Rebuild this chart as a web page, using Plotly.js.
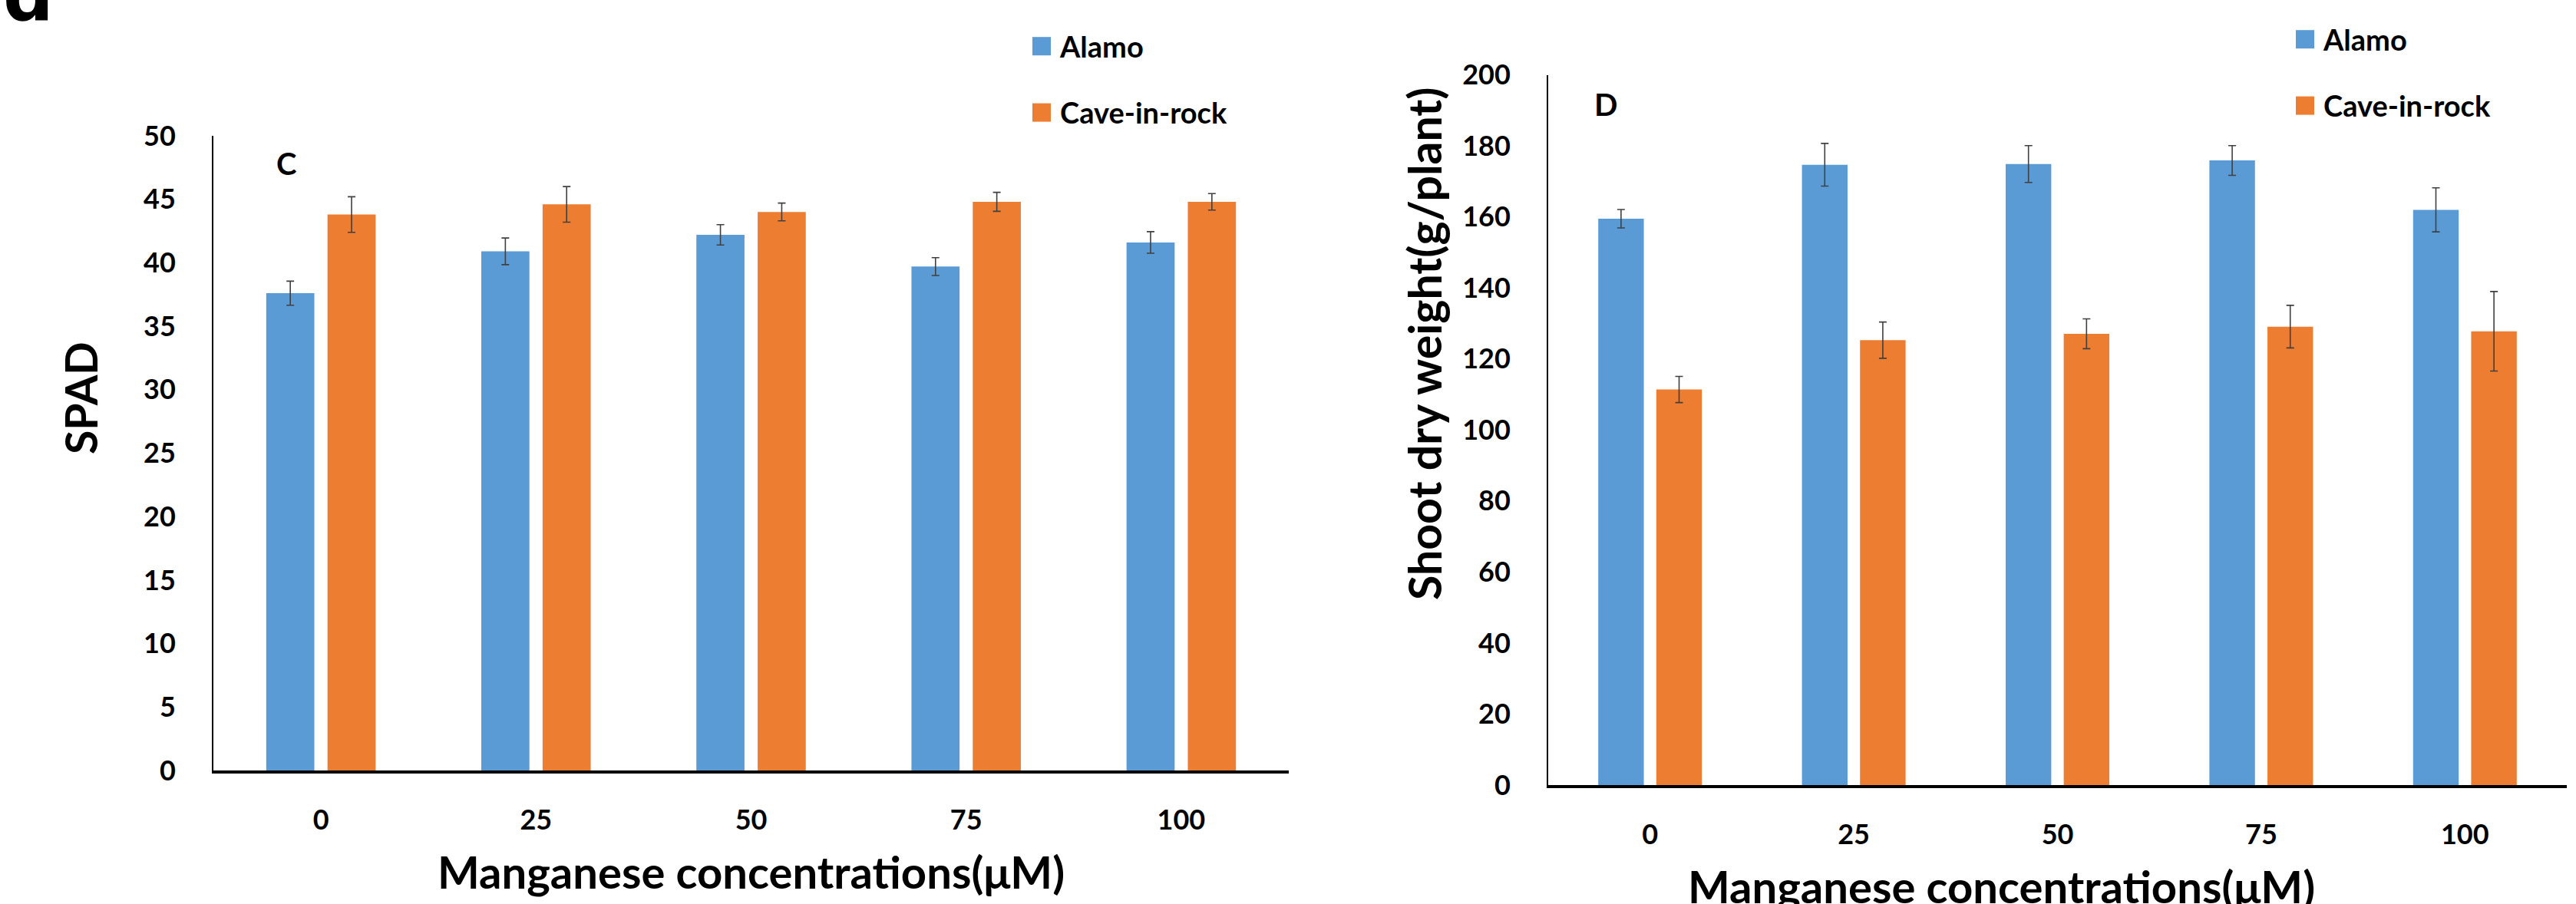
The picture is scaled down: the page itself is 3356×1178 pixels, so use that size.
<!DOCTYPE html>
<html>
<head>
<meta charset="utf-8">
<script src="https://cdn.plot.ly/plotly-3.0.1.min.js"></script>
<style>html,body{margin:0;padding:0;background:#fff;}</style>
</head>
<body>
<div id="chart" style="width:3356px;height:1178px;"></div>
<script>
// ---- Data ----
const categories = ['0', '25', '50', '75', '100'];
const seriesNames = ['Alamo', 'Cave-in-rock'];

// Panel C: SPAD
const spadAlamo    = [37.6, 40.9, 42.2, 39.7, 41.6];
const spadAlamoErr = [0.95, 1.05, 0.8, 0.7, 0.85];
const spadCave     = [43.8, 44.6, 44.0, 44.8, 44.8];
const spadCaveErr  = [1.4, 1.4, 0.7, 0.75, 0.65];

// Panel D: Shoot dry weight (g/plant)
const sdwAlamo    = [159.5, 174.7, 174.9, 175.9, 162.0];
const sdwAlamoErr = [2.6, 6.0, 5.2, 4.2, 6.2];
const sdwCave     = [111.4, 125.3, 127.1, 129.1, 127.8];
const sdwCaveErr  = [3.7, 5.1, 4.2, 6.0, 11.2];

const spadTicks = [0, 5, 10, 15, 20, 25, 30, 35, 40, 45, 50];
const sdwTicks  = [0, 20, 40, 60, 80, 100, 120, 140, 160, 180, 200];

// ---- Styling ----
const W = 3356, H = 1178;
const BLUE = '#5B9BD5', ORANGE = '#ED7D31';
const FONT = 'Lato, "Open Sans", sans-serif';
const ERRC = '#404040';
const px = v => v / W;
const py = v => 1 - v / H;

function barTrace(name, x, y, err, color, xa, ya, legend, group) {
  return {
    type: 'bar', name: name, x: x, y: y,
    xaxis: xa, yaxis: ya, legend: legend, legendgroup: group,
    marker: {color: color, line: {width: 0}},
    error_y: {type: 'data', array: err, visible: true, color: ERRC, thickness: 1.6, width: 5}
  };
}

const data = [
  barTrace(seriesNames[0], categories, spadAlamo, spadAlamoErr, BLUE, 'x', 'y', 'legend', 'a'),
  barTrace(seriesNames[1], categories, spadCave, spadCaveErr, ORANGE, 'x', 'y', 'legend', 'b'),
  barTrace(seriesNames[0], categories, sdwAlamo, sdwAlamoErr, BLUE, 'x2', 'y2', 'legend2', 'c'),
  barTrace(seriesNames[1], categories, sdwCave, sdwCaveErr, ORANGE, 'x2', 'y2', 'legend2', 'd')
];

const tickfont = {family: FONT, size: 36, color: '#000', weight: 'bold'};
const xBase = {type: 'category', showline: true, linecolor: '#000', linewidth: 4, ticks: '',
  showgrid: false, zeroline: false, tickfont: tickfont, ticklabelstandoff: 30, fixedrange: true};
const yBase = {showline: true, linecolor: '#000', linewidth: 2, ticks: '', showgrid: false,
  zeroline: false, tickfont: tickfont, ticklabelstandoff: 40, fixedrange: true};

const legendBase = {
  font: {family: FONT, size: 38, color: '#000', weight: 'bold'},
  bgcolor: 'rgba(0,0,0,0)', xanchor: 'left', yanchor: 'top',
  tracegroupgap: 34, orientation: 'v'
};

function ann(text, x, y, size, extra) {
  return Object.assign({text: text, x: x, y: y, xref: 'paper', yref: 'paper', showarrow: false,
    xanchor: 'center', yanchor: 'middle',
    font: {family: FONT, size: size, color: '#000', weight: 'bold'}}, extra || {});
}

const layout = {
  width: W, height: H,
  margin: {l: 0, r: 0, t: 0, b: 0},
  paper_bgcolor: '#fff', plot_bgcolor: '#fff',
  barmode: 'group', bargap: 0.43, bargroupgap: 0.215,
  showlegend: true,
  xaxis: Object.assign({}, xBase, {domain: [px(278), px(1679)], anchor: 'y'}),
  yaxis: Object.assign({}, yBase, {domain: [py(1004), py(177)], range: [0, 50], tickvals: spadTicks, anchor: 'x'}),
  xaxis2: Object.assign({}, xBase, {domain: [px(2017), px(3344)], anchor: 'y2'}),
  yaxis2: Object.assign({}, yBase, {domain: [py(1023), py(97.6)], range: [0, 200], tickvals: sdwTicks, anchor: 'x2'}),
  legend: Object.assign({}, legendBase, {x: px(1341), y: py(29)}),
  legend2: Object.assign({}, legendBase, {x: px(2987), y: py(20)}),
  annotations: [
    ann('d', px(2), py(51), 92, {xanchor: 'left', yanchor: 'bottom', font: {family: 'DejaVu Sans', size: 92, color: '#000', weight: 'bold'}}),
    ann('C', px(373), py(213), 40),
    ann('D', px(2092), py(136), 40),
    ann('SPAD', px(105), py(519), 57, {textangle: -90}),
    ann('Shoot dry weight(g/plant)', px(1855), py(448), 59, {textangle: -90}),
    ann('Manganese concentrations(μM)', px(978), py(1135), 58),
    ann('Manganese concentrations(μM)', px(2607), py(1154), 58)
  ]
};

// Square 24 px legend keys just left of each label (label text starts at x=40 in each legend item)
function squareKeys(gd) {
  gd.querySelectorAll('.scrollbox').forEach(function (sb) { sb.removeAttribute('clip-path'); });
  gd.querySelectorAll('.legendpoints path').forEach(function (p) {
    p.setAttribute('d', 'M12,12H-12V-12H12Z');
    p.setAttribute('transform', 'translate(16,0)');
  });
}

Plotly.newPlot('chart', data, layout, {displayModeBar: false, staticPlot: true}).then(function (gd) {
  squareKeys(gd);
  gd.on('plotly_afterplot', function () { squareKeys(gd); });
  requestAnimationFrame(function () { squareKeys(gd); });
  setTimeout(function () { squareKeys(gd); }, 100);
});
</script>
</body>
</html>
